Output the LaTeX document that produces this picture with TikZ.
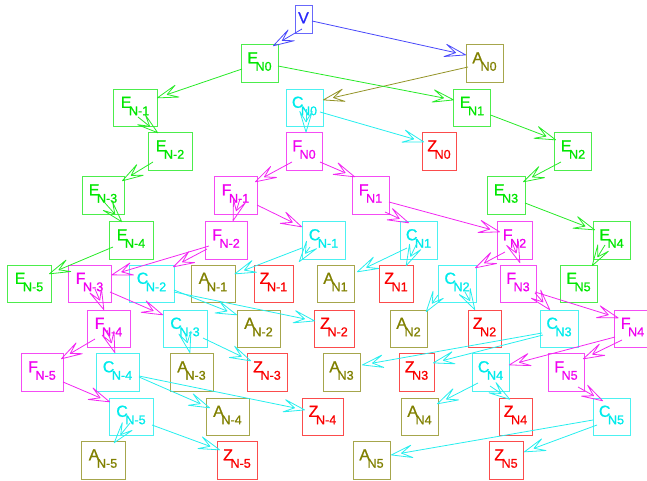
\documentclass[tikz,border=0pt]{standalone}
\usepackage{fontspec}
\setmainfont{Liberation Sans}
\newfontfamily\lf{Liberation Sans}[FakeBold=0.9]
\usetikzlibrary{arrows.meta,calc}
\definecolor{cB}{RGB}{40,40,250}
\definecolor{cG}{RGB}{0,230,0}
\definecolor{cO}{RGB}{128,128,0}
\definecolor{cC}{RGB}{0,235,235}
\definecolor{cM}{RGB}{240,0,240}
\definecolor{cR}{RGB}{250,0,0}
\newcommand\lab[2]{{\lf\fontsize{16pt}{18pt}\selectfont #1\kern-2.5pt\raisebox{-7.4pt}{\fontsize{12.6pt}{14pt}\selectfont #2}}}
\newcommand\edge[5]{\draw[ar=#1] ($(#2)+(#3)$) -- ($(#4)+(#5)$);}
\begin{document}
\begin{tikzpicture}[x=1pt,y=-1pt,
  bx/.style={draw=#1!70!white, text=#1, line width=0.8pt, rectangle, inner sep=0pt,
    minimum height=37.5pt, text height=5pt, text depth=5.4pt},
  ar/.style={draw=#1!85!white, line width=0.8pt,
    -{Stealth[open,round,length=25pt,width=15pt,inset=12.5pt]}}]
\useasboundingbox (0,0) rectangle (647,481);
% row 0
\node[bx=cB, minimum width=17pt, minimum height=28pt, text height=10pt, text depth=1.4pt] (V) at (303.5,19) {\lf\fontsize{16pt}{18pt}\selectfont V};
% row 1
\node[bx=cG, minimum width=37pt] (EN0) at (259.5,63.5) {\lab{E}{N0}};
\node[bx=cO, minimum width=37pt] (AN0) at (484.5,63.5) {\lab{A}{N0}};
% row 2
\node[bx=cG, minimum width=44pt] (ENm1) at (135,108) {\lab{E}{N-1}};
\node[bx=cC, minimum width=37pt] (CN0) at (304.5,108) {\lab{C}{N0}};
\node[bx=cG, minimum width=37.5pt] (EN1) at (472,108) {\lab{E}{N1}};
% row 3
\node[bx=cG, minimum width=44pt] (ENm2) at (170,151.5) {\lab{E}{N-2}};
\node[bx=cM, minimum width=36pt] (FN0) at (304,151.5) {\lab{F}{N0}};
\node[bx=cR, minimum width=34pt] (ZN0) at (439,151.5) {\lab{Z}{N0}};
\node[bx=cG, minimum width=37.5pt] (EN2) at (573,151.5) {\lab{E}{N2}};
% row 4
\node[bx=cG, minimum width=42pt] (ENm3) at (103,195.5) {\lab{E}{N-3}};
\node[bx=cM, minimum width=43pt] (FNm1) at (235.5,195.5) {\lab{F}{N-1}};
\node[bx=cM, minimum width=37pt] (FN1) at (370.5,195.5) {\lab{F}{N1}};
\node[bx=cG, minimum width=38pt] (EN3) at (506,195.5) {\lab{E}{N3}};
% row 5
\node[bx=cG, minimum width=44pt] (ENm4) at (131,240.5) {\lab{E}{N-4}};
\node[bx=cM, minimum width=42pt] (FNm2) at (226,240.5) {\lab{F}{N-2}};
\node[bx=cC, minimum width=43pt] (CNm1) at (323.5,240.5) {\lab{C}{N-1}};
\node[bx=cC, minimum width=37pt] (CN1) at (418.5,240.5) {\lab{C}{N1}};
\node[bx=cM, minimum width=35pt] (FN2) at (514.5,240.5) {\lab{F}{N2}};
\node[bx=cG, minimum width=37pt] (EN4) at (611.5,240.5) {\lab{E}{N4}};
% row 6
\node[bx=cG, minimum width=44pt] (ENm5) at (29,284) {\lab{E}{N-5}};
\node[bx=cM, minimum width=43pt] (FNm3) at (89.5,284) {\lab{F}{N-3}};
\node[bx=cC, minimum width=45pt] (CNm2) at (151.5,284) {\lab{C}{N-2}};
\node[bx=cO, minimum width=44pt] (ANm1) at (213,284) {\lab{A}{N-1}};
\node[bx=cR, minimum width=39pt] (ZNm1) at (273.5,284) {\lab{Z}{N-1}};
\node[bx=cO, minimum width=37pt] (AN1) at (335.5,284) {\lab{A}{N1}};
\node[bx=cR, minimum width=34pt] (ZN1) at (396,284) {\lab{Z}{N1}};
\node[bx=cC, minimum width=38pt] (CN2) at (457,284) {\lab{C}{N2}};
\node[bx=cM, minimum width=36pt] (FN3) at (518,284) {\lab{F}{N3}};
\node[bx=cG, minimum width=37pt] (EN5) at (578.5,284) {\lab{E}{N5}};
% row 7
\node[bx=cM, minimum width=43pt] (FNm4) at (108.5,329) {\lab{F}{N-4}};
\node[bx=cC, minimum width=44pt] (CNm3) at (185,329) {\lab{C}{N-3}};
\node[bx=cO, minimum width=43pt] (ANm2) at (258.5,329) {\lab{A}{N-2}};
\node[bx=cR, minimum width=40pt] (ZNm2) at (334,329) {\lab{Z}{N-2}};
\node[bx=cO, minimum width=37pt] (AN2) at (408.5,329) {\lab{A}{N2}};
\node[bx=cR, minimum width=33pt] (ZN2) at (484.5,329) {\lab{Z}{N2}};
\node[bx=cC, minimum width=38pt] (CN3) at (559,329) {\lab{C}{N3}};
\node[bx=cM, minimum width=37pt] (FN4) at (632.5,329) {\lab{F}{N4}};
% row 8
\node[bx=cM, minimum width=42pt] (FNm5) at (42,372.5) {\lab{F}{N-5}};
\node[bx=cC, minimum width=43pt] (CNm4) at (117.5,372.5) {\lab{C}{N-4}};
\node[bx=cO, minimum width=43pt] (ANm3) at (191.5,372.5) {\lab{A}{N-3}};
\node[bx=cR, minimum width=40pt] (ZNm3) at (267,372.5) {\lab{Z}{N-3}};
\node[bx=cO, minimum width=37pt] (AN3) at (341.5,372.5) {\lab{A}{N3}};
\node[bx=cR, minimum width=35pt] (ZN3) at (416.5,372.5) {\lab{Z}{N3}};
\node[bx=cC, minimum width=37pt] (CN4) at (490.5,372.5) {\lab{C}{N4}};
\node[bx=cM, minimum width=36pt] (FN5) at (566,372.5) {\lab{F}{N5}};
% row 9
\node[bx=cC, minimum width=44pt] (CNm5) at (131,417) {\lab{C}{N-5}};
\node[bx=cO, minimum width=43pt] (ANm4) at (227.5,417) {\lab{A}{N-4}};
\node[bx=cR, minimum width=41pt] (ZNm4) at (322.5,417) {\lab{Z}{N-4}};
\node[bx=cO, minimum width=37pt] (AN4) at (419.5,417) {\lab{A}{N4}};
\node[bx=cR, minimum width=33pt] (ZN4) at (515.5,417) {\lab{Z}{N4}};
\node[bx=cC, minimum width=37pt] (CN5) at (611.5,417) {\lab{C}{N5}};
% row 10
\node[bx=cO, minimum width=44pt] (ANm5) at (103,460.5) {\lab{A}{N-5}};
\node[bx=cR, minimum width=40pt] (ZNm5) at (237,460.5) {\lab{Z}{N-5}};
\node[bx=cO, minimum width=37pt] (AN5) at (371.5,460.5) {\lab{A}{N5}};
\node[bx=cR, minimum width=34pt] (ZN5) at (506,460.5) {\lab{Z}{N5}};
% edges
\edge{cB}{V}{-1.5,10}{EN0}{13.5,-17.5}
\edge{cB}{V}{8.5,2}{AN0}{-18.5,-8.5}
\edge{cO}{AN0}{-16.5,3.5}{CN0}{18.5,-8}
\edge{cG}{EN0}{-17.5,5.5}{ENm1}{22,-10}
\edge{cG}{EN0}{18.5,2.5}{EN1}{-18,-8}
\edge{cC}{CN0}{1.5,1}{FN0}{2,-19}
\edge{cC}{CN0}{15.5,4}{ZN0}{-15,-9.5}
\edge{cG}{EN1}{18.5,7}{EN2}{-17,-11.5}
\edge{cG}{ENm1}{3,9}{ENm2}{-12,-18.5}
\edge{cG}{ENm2}{-17,10.5}{ENm3}{19,-14.5}
\edge{cG}{ENm3}{2,7.5}{ENm4}{-9,-18.5}
\edge{cG}{ENm4}{-18,6.5}{ENm5}{20,-10}
\edge{cG}{EN2}{-12,10.5}{EN3}{17,-13.5}
\edge{cG}{EN3}{19,7.5}{EN4}{-16.5,-10.5}
\edge{cG}{EN4}{-6.5,4.5}{EN5}{13.5,-18}
\edge{cM}{FN0}{-12,10.5}{FNm1}{19.5,-13.5}
\edge{cM}{FN0}{16,10.5}{FN1}{-15.5,-18.5}
\edge{cM}{FNm1}{4.5,3.5}{FNm2}{7,-19.5}
\edge{cM}{FNm1}{21.5,9.5}{CNm1}{-21.5,-13.5}
\edge{cM}{FN1}{18.5,6.5}{FN2}{-14.5,-8.5}
\edge{cM}{FN1}{14.5,16.5}{CN1}{-9.5,-17.5}
\edge{cM}{FNm2}{-17,5.5}{FNm3}{22,-9}
\edge{cM}{FNm2}{-19,8.5}{CNm2}{21.5,-17}
\edge{cC}{CNm1}{-21.5,7.5}{ANm1}{21.5,-10}
\edge{cC}{CNm1}{-13.5,6.5}{ZNm1}{25.5,-22}
\edge{cC}{CN1}{-11.5,7.5}{AN1}{21.5,-12}
\edge{cC}{CN1}{-1.5,2.5}{ZN1}{10,-18}
\edge{cM}{FN2}{-9.5,11.5}{CN2}{18,-16}
\edge{cM}{FN2}{-2.5,1.5}{FN3}{2,-21}
\edge{cC}{CNm2}{22.5,6}{ANm2}{-21.5,-14}
\edge{cC}{CNm2}{22.5,8}{ZNm2}{-19,-8}
\edge{cC}{CN2}{-19,11}{AN2}{17.5,-17}
\edge{cC}{CN2}{8,8}{ZN2}{-9.5,-19}
\edge{cM}{FNm3}{5.5,5}{FNm4}{-4.5,-19}
\edge{cM}{FNm3}{20.5,8}{CNm3}{-22,-14}
\edge{cM}{FN3}{17,8}{FN4}{-14,-11}
\edge{cM}{FN3}{17,9}{CN3}{-9,-19}
\edge{cM}{FNm4}{-13.5,10}{FNm5}{19,-13.5}
\edge{cM}{FNm4}{-1.5,1}{CNm4}{-2.5,-19.5}
\edge{cM}{FN4}{-17.5,8}{CN4}{18.5,-7.5}
\edge{cM}{FN4}{-10.5,11}{FN5}{17,-13.5}
\edge{cC}{CNm3}{0,4}{ANm3}{-1.5,-19.5}
\edge{cC}{CNm3}{18,9}{ZNm3}{-16,-11.5}
\edge{cC}{CN3}{-17,4}{AN3}{20.5,-7.5}
\edge{cC}{CN3}{-16,6}{ZN3}{16.5,-9.5}
\edge{cM}{FNm5}{21,9.5}{CNm5}{-21,-15}
\edge{cM}{FN5}{12,14.5}{CN5}{-8.5,-16}
\edge{cC}{CNm4}{21.5,4.5}{ANm4}{-17.5,-9}
\edge{cC}{CNm4}{21.5,3.5}{ZNm4}{-17.5,-7}
\edge{cC}{CN4}{-12.5,10.5}{AN4}{17.5,-13}
\edge{cC}{CN4}{-0.5,13.5}{ZN4}{-5.5,-17.5}
\edge{cC}{CNm5}{-1,6}{ANm5}{11,-17.5}
\edge{cC}{CNm5}{21,8}{ZNm5}{-17,-10.5}
\edge{cC}{CN5}{-18.5,3}{AN5}{19.5,-5.5}
\edge{cC}{CN5}{-14.5,8}{ZN5}{18,-8.5}
\end{tikzpicture}
\end{document}
